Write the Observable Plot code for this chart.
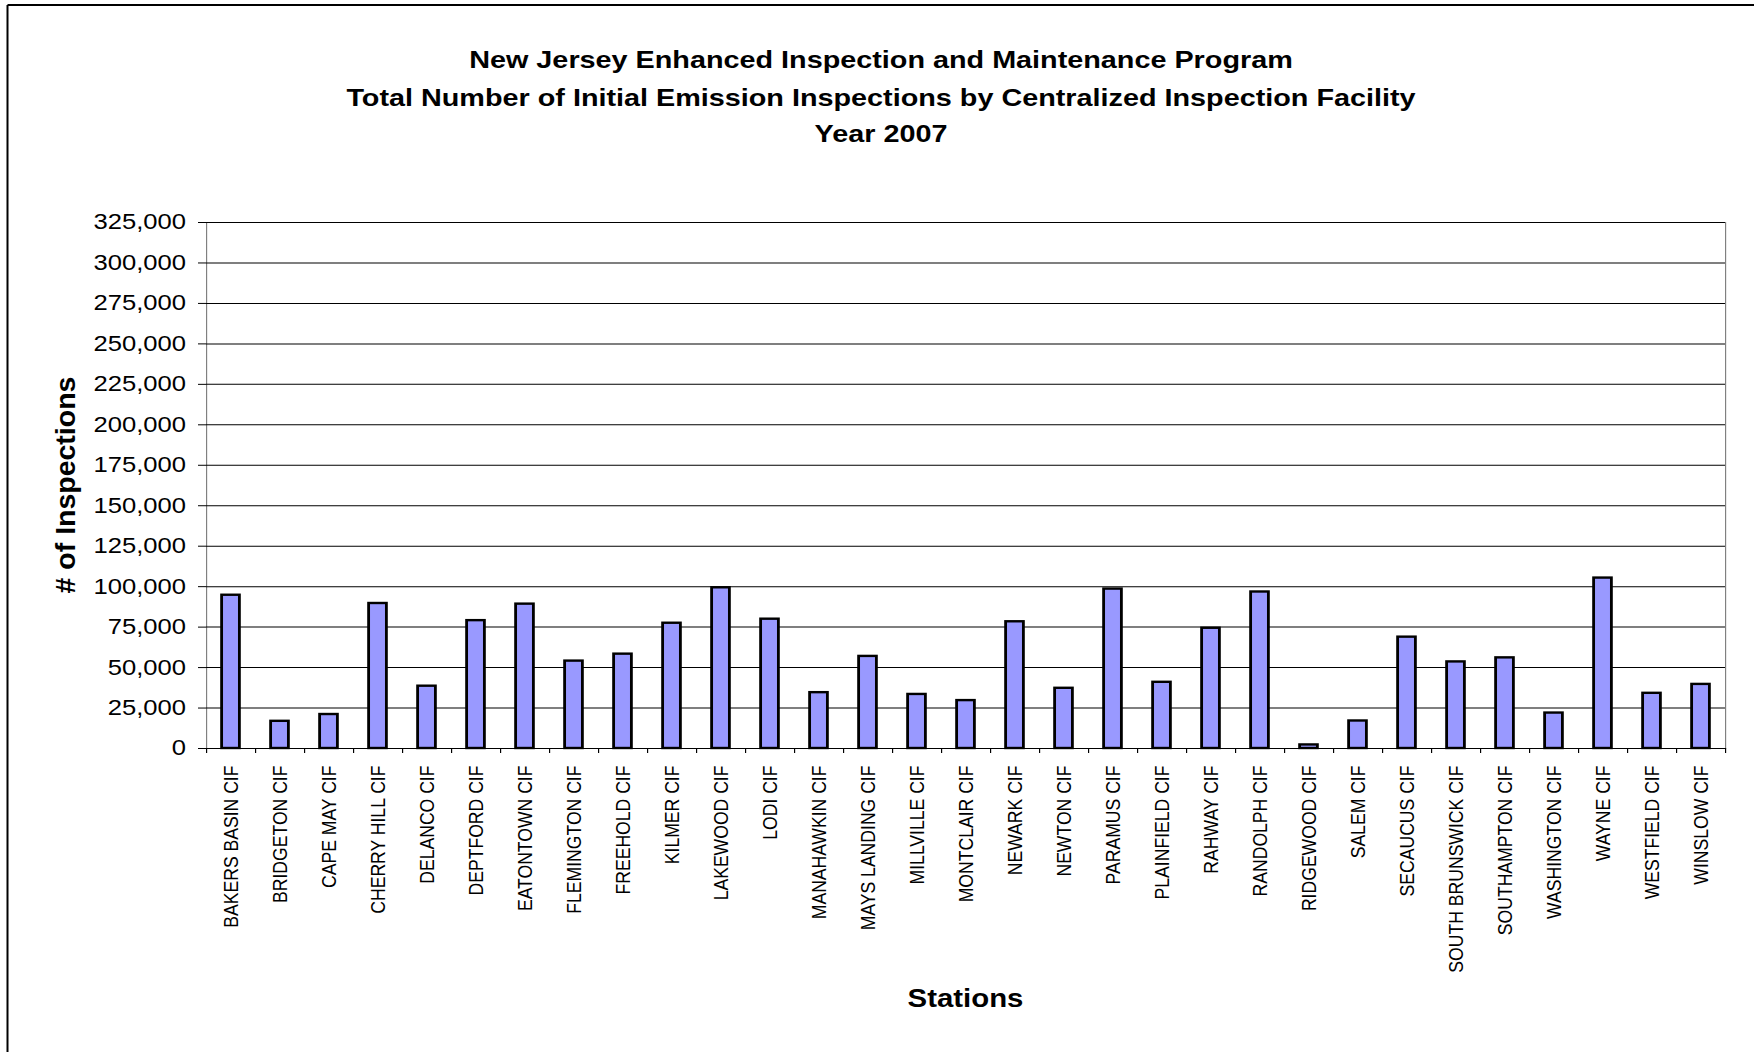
<!DOCTYPE html>
<html>
<head>
<meta charset="utf-8">
<script src="https://cdn.jsdelivr.net/npm/d3@7"></script>
<script src="https://cdn.jsdelivr.net/npm/@observablehq/plot@0.6"></script>
<style>
  html, body { margin: 0; padding: 0; background: #fff; }
  #chart svg { display: block; }
</style>
</head>
<body>
<div id="chart"></div>
<script>
const titleLines = [
  "New Jersey Enhanced Inspection and Maintenance Program",
  "Total Number of Initial Emission Inspections by Centralized Inspection Facility",
  "Year 2007"
];
const xTitle = "Stations";
const yTitle = "# of Inspections";

const stations = [
  "BAKERS BASIN CIF", "BRIDGETON CIF", "CAPE MAY CIF", "CHERRY HILL CIF", "DELANCO CIF",
  "DEPTFORD CIF", "EATONTOWN CIF", "FLEMINGTON CIF", "FREEHOLD CIF", "KILMER CIF",
  "LAKEWOOD CIF", "LODI CIF", "MANAHAWKIN CIF", "MAYS LANDING CIF", "MILLVILLE CIF",
  "MONTCLAIR CIF", "NEWARK CIF", "NEWTON CIF", "PARAMUS CIF", "PLAINFIELD CIF",
  "RAHWAY CIF", "RANDOLPH CIF", "RIDGEWOOD CIF", "SALEM CIF", "SECAUCUS CIF",
  "SOUTH BRUNSWICK CIF", "SOUTHAMPTON CIF", "WASHINGTON CIF", "WAYNE CIF", "WESTFIELD CIF",
  "WINSLOW CIF"
];
const inspections = [
  94700, 16800, 21000, 89600, 38500,
  79000, 89200, 54000, 58300, 77400,
  99300, 79900, 34500, 56900, 33400,
  29600, 78300, 37200, 98500, 40900,
  74300, 96700, 2200, 17000, 68800,
  53500, 56000, 21900, 105300, 34100,
  39600
];
const yTicks = [0, 25000, 50000, 75000, 100000, 125000, 150000, 175000,
                200000, 225000, 250000, 275000, 300000, 325000];

const data = stations.map((s, i) => ({station: s, value: inspections[i]}));

// The reference picture is horizontally stretched; draw in a narrower
// coordinate space and stretch the SVG horizontally to match.
const K = 1.175;
const W = 1754, H = 1052;
const PW = W / K;
const mLeft = 206 / K, mRight = (W - 1725) / K, mTop = 222, mBottom = H - 748;
const frameH = H - mTop - mBottom;
const step = (PW - mLeft - mRight) / stations.length;
const font = "'Liberation Sans', Arial, Helvetica, sans-serif";

const chart = Plot.plot({
  width: PW,
  height: H,
  marginLeft: mLeft,
  marginRight: mRight,
  marginTop: mTop,
  marginBottom: mBottom,
  style: {fontFamily: font, color: "#000", background: "#fff", overflow: "visible"},
  x: {domain: stations, paddingInner: 0.637, paddingOuter: 0.3185, round: false, axis: null},
  y: {domain: [0, 325000], axis: null},
  marks: [
    Plot.frame({stroke: "#808080", strokeWidth: 1}),
    Plot.gridY(yTicks, {stroke: "#000", strokeOpacity: 1, strokeWidth: 1}),
    Plot.axisY(yTicks, {
      tickSize: 8 / K, tickPadding: 12.6 / K, fontSize: 21.8,
      tickFormat: d3.format(","), stroke: "#000", label: null
    }),
    Plot.ruleX(stations, {x: d => d, dx: -step / 2, insetTop: frameH, insetBottom: -5, stroke: "#000"}),
    Plot.ruleX(stations.slice(-1), {x: d => d, dx: step / 2, insetTop: frameH, insetBottom: -5, stroke: "#000"}),
    Plot.barY(data, {x: "station", y: "value", fill: "#9999FF", stroke: "#000", strokeWidth: 2.4}),
    Plot.text(stations, {
      x: d => d, frameAnchor: "bottom", rotate: -90, textAnchor: "end",
      lineAnchor: "middle", dy: 17, fontSize: 17.6, fill: "#000"
    })
  ]
});

const svg = d3.select(chart);
svg.attr("width", W)
   .attr("height", H)
   .attr("viewBox", `0 0 ${PW} ${H}`)
   .attr("preserveAspectRatio", "none")
   .style("width", W + "px")
   .style("height", H + "px")
   .style("max-width", "none");

// Outer border (left and top edges visible in the reference)
svg.append("line").attr("x1", 7.5 / K).attr("x2", 7.5 / K).attr("y1", 5).attr("y2", H)
   .attr("stroke", "#000").attr("stroke-width", 2 / K);
svg.append("line").attr("x1", 7.5 / K).attr("x2", PW).attr("y1", 5).attr("y2", 5)
   .attr("stroke", "#000").attr("stroke-width", 2);

// Title
const titleY = [59, 97, 133];
titleLines.forEach((t, i) => {
  svg.append("text")
    .attr("x", 881 / K).attr("y", titleY[i]).attr("dy", "0.35em")
    .attr("text-anchor", "middle")
    .attr("font-family", font).attr("font-weight", "bold").attr("font-size", 24.5)
    .attr("fill", "#000")
    .text(t);
});

// Axis titles
svg.append("text")
  .attr("transform", `translate(${65 / K},${(mTop + H - mBottom) / 2}) rotate(-90) scale(1,${1 / K})`)
  .attr("dy", "0.35em").attr("text-anchor", "middle")
  .attr("font-family", font).attr("font-weight", "bold").attr("font-size", 28.5)
  .attr("fill", "#000")
  .text(yTitle);
svg.append("text")
  .attr("x", 965.5 / K).attr("y", 998).attr("dy", "0.35em")
  .attr("text-anchor", "middle")
  .attr("font-family", font).attr("font-weight", "bold").attr("font-size", 25)
  .attr("fill", "#000")
  .text(xTitle);

document.getElementById("chart").appendChild(chart);
</script>
</body>
</html>
